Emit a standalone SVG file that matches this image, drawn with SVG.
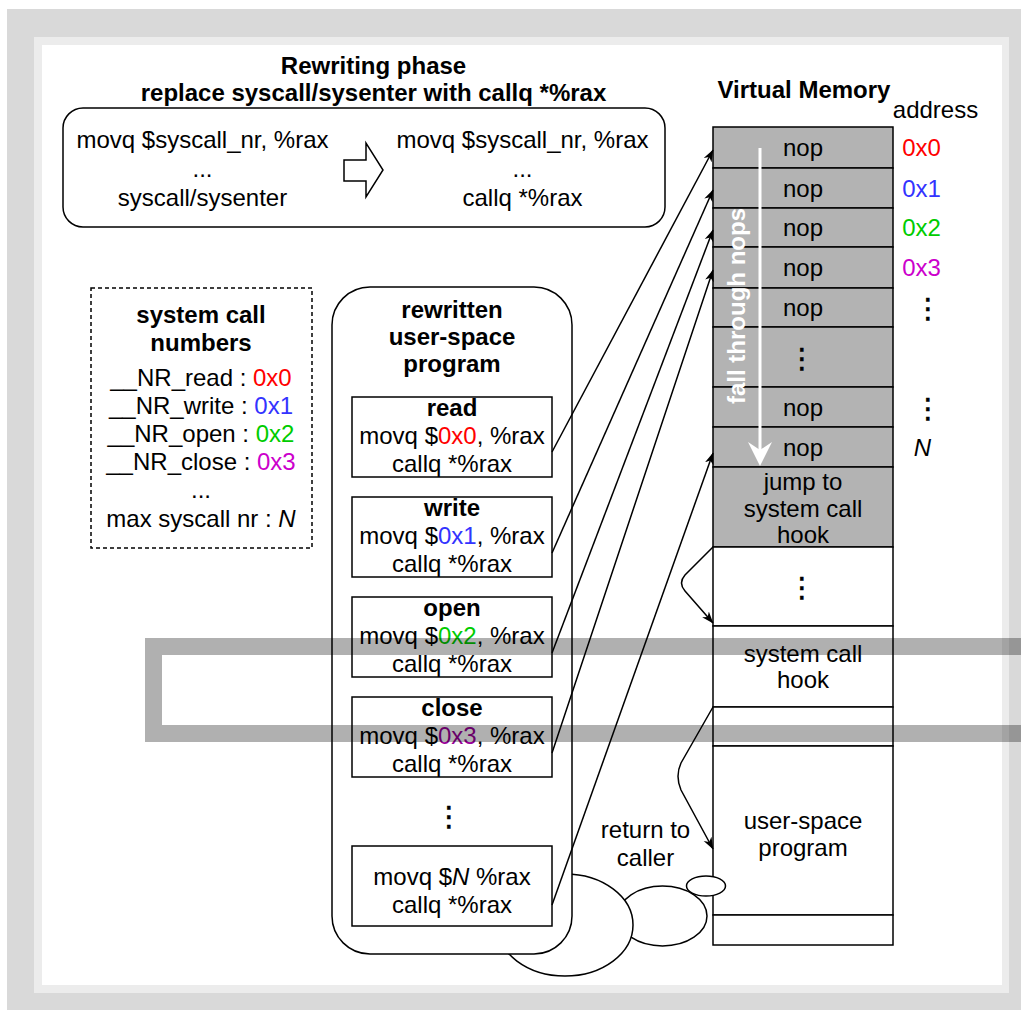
<svg xmlns="http://www.w3.org/2000/svg" width="1021" height="1010" viewBox="0 0 1021 1010">
<defs>
<style>
text{font-family:"Liberation Sans",Arial,Helvetica,sans-serif;font-size:24px;fill:#000;text-anchor:middle}
.b{font-weight:bold}
.i{font-style:italic}
.box{fill:#fff;stroke:#000;stroke-width:1.5}
.dash{fill:#fff;stroke:#000;stroke-width:1.5;stroke-dasharray:4 3}
.mg{fill:#b3b3b3;stroke:#000;stroke-width:1.5}
.mw{fill:#fff;stroke:#000;stroke-width:1.5}
.con{fill:none;stroke:#000;stroke-width:1.5}
.ell{fill:#fff;stroke:#000;stroke-width:1.5}
.dots{font-family:"DejaVu Sans",sans-serif;font-size:28px;stroke:#000;stroke-width:0.6}
.r{fill:#ff0000}.bl{fill:#3333ff}.g{fill:#00cc00}.m{fill:#cc00cc}.p{fill:#990099}
.wt{fill:#fff;font-weight:bold}
</style>
<marker id="ah" viewBox="0 0 10 10" refX="9.5" refY="5" markerWidth="12" markerHeight="12" markerUnits="userSpaceOnUse" orient="auto">
<path d="M0,1.3 L10,5 L0,8.7 L2.8,5 Z" fill="#000"/>
</marker>
</defs>

<g id="frame">
<rect x="7" y="9" width="1014" height="1001" fill="#d9d9d9"/>
<rect x="34" y="37" width="975" height="956" fill="#ececec"/>
<rect x="42" y="45" width="960" height="940" fill="#fff"/>
</g>

<g id="title">
<text class="b" x="373.5" y="74">Rewriting phase</text>
<text class="b" x="373.5" y="101">replace syscall/sysenter with callq *%rax</text>
</g>

<g id="rewrite-box">
<rect class="box" x="63" y="108" width="602" height="119" rx="20"/>
<text x="202.5" y="148">movq $syscall_nr, %rax</text>
<text x="202.5" y="177">...</text>
<text x="202.5" y="206">syscall/sysenter</text>
<path class="box" d="M344,160 H366 V143 L383,170 L366,197 V181 H344 Z"/>
<text x="522.5" y="148">movq $syscall_nr, %rax</text>
<text x="522.5" y="177">...</text>
<text x="522.5" y="206">callq *%rax</text>
</g>

<g id="syscall-numbers">
<rect class="dash" x="91" y="288" width="221" height="260"/>
<text class="b" x="201" y="323">system call</text>
<text class="b" x="201" y="351">numbers</text>
<text x="201" y="386">__NR_read : <tspan class="r">0x0</tspan></text>
<text x="201" y="414">__NR_write : <tspan class="bl">0x1</tspan></text>
<text x="201" y="442">__NR_open : <tspan class="g">0x2</tspan></text>
<text x="201" y="470">__NR_close : <tspan class="m">0x3</tspan></text>
<text x="201" y="498">...</text>
<text x="201" y="527">max syscall nr : <tspan class="i">N</tspan></text>
</g>

<g id="bubbles-back">
<ellipse class="ell" cx="662.5" cy="916" rx="44.5" ry="30"/>
<ellipse class="ell" cx="565" cy="925" rx="68" ry="51"/>
</g>

<g id="program">
<rect class="box" x="332" y="287" width="240" height="667" rx="38"/>
<text class="b" x="452" y="318">rewritten</text>
<text class="b" x="452" y="345">user-space</text>
<text class="b" x="452" y="372">program</text>
</g>
<g id="read">
<rect class="box" x="352" y="397" width="200" height="80"/>
<text class="b" x="452" y="416">read</text>
<text x="452" y="444">movq $<tspan class="r">0x0</tspan>, %rax</text>
<text x="452" y="472">callq *%rax</text>
</g>
<g id="write">
<rect class="box" x="352" y="497" width="200" height="80"/>
<text class="b" x="452" y="516">write</text>
<text x="452" y="544">movq $<tspan class="bl">0x1</tspan>, %rax</text>
<text x="452" y="572">callq *%rax</text>
</g>
<g id="open">
<rect class="box" x="352" y="597" width="200" height="80"/>
<text class="b" x="452" y="616">open</text>
<text x="452" y="644">movq $<tspan class="g">0x2</tspan>, %rax</text>
<text x="452" y="672">callq *%rax</text>
</g>
<g id="close">
<rect class="box" x="352" y="697" width="200" height="80"/>
<text class="b" x="452" y="716">close</text>
<text x="452" y="744">movq $<tspan class="p">0x3</tspan>, %rax</text>
<text x="452" y="772">callq *%rax</text>
</g>
<text class="dots" x="449" y="826">⋮</text>
<g id="max">
<rect class="box" x="352" y="846" width="200" height="80"/>
<text x="452" y="885">movq $<tspan class="i">N</tspan> %rax</text>
<text x="452" y="913">callq *%rax</text>
</g>

<g id="memory">
<text class="b" x="804" y="98">Virtual Memory</text>
<text x="935.5" y="118">address</text>
<rect class="mg" x="713" y="127" width="180" height="41"/>
<rect class="mg" x="713" y="168" width="180" height="40"/>
<rect class="mg" x="713" y="208" width="180" height="39"/>
<rect class="mg" x="713" y="247" width="180" height="41"/>
<rect class="mg" x="713" y="288" width="180" height="39"/>
<rect class="mg" x="713" y="327" width="180" height="60"/>
<rect class="mg" x="713" y="387" width="180" height="40"/>
<rect class="mg" x="713" y="427" width="180" height="40"/>
<rect class="mg" x="713" y="467" width="180" height="80"/>
<rect class="mw" x="713" y="547" width="180" height="79"/>
<rect class="mw" x="713" y="626" width="180" height="81"/>
<rect class="mw" x="713" y="707" width="180" height="39"/>
<rect class="mw" x="713" y="746" width="180" height="169"/>
<rect class="mw" x="713" y="915" width="180" height="30"/>
<text x="803" y="156">nop</text>
<text x="803" y="196.5">nop</text>
<text x="803" y="236">nop</text>
<text x="803" y="276">nop</text>
<text x="803" y="316">nop</text>
<text class="dots" x="802" y="368">⋮</text>
<text x="803" y="416">nop</text>
<text x="803" y="456">nop</text>
<text x="803" y="490">jump to</text>
<text x="803" y="517">system call</text>
<text x="803" y="543">hook</text>
<text class="dots" x="802" y="597">⋮</text>
<text x="803" y="662">system call</text>
<text x="803" y="688">hook</text>
<text x="803" y="829">user-space</text>
<text x="803" y="856">program</text>
<text class="r" x="921.5" y="156">0x0</text>
<text class="bl" x="921.5" y="196.5">0x1</text>
<text class="g" x="921.5" y="236">0x2</text>
<text class="m" x="921.5" y="276">0x3</text>
<text class="dots" x="928" y="318">⋮</text>
<text class="dots" x="928" y="418">⋮</text>
<text class="i" x="922.5" y="455.5">N</text>
</g>

<g id="fall-through">
<line x1="760" y1="148" x2="760" y2="452" stroke="#fff" stroke-width="3"/>
<path d="M748,442 L760,466 L772,442 L760,450 Z" fill="#fff"/>
<text class="wt" transform="translate(745,306) rotate(-90)" x="0" y="0">fall through nops</text>
</g>

<g id="connectors">
<path class="con" marker-end="url(#ah)" d="M552,452 L713,150"/>
<path class="con" marker-end="url(#ah)" d="M552,553 L713,190"/>
<path class="con" marker-end="url(#ah)" d="M552,653 L713,230"/>
<path class="con" marker-end="url(#ah)" d="M552,753 L713,270"/>
<path class="con" marker-end="url(#ah)" d="M552,905 L713,453"/>
<path class="con" marker-end="url(#ah)" d="M713,547 L685,575 Q678,583 685,591 L713,623"/>
<path class="con" marker-end="url(#ah)" d="M713,707 L681,763 Q675,776 681,790 L713,849"/>
</g>

<g id="return-label">
<text x="645.5" y="838">return to</text>
<text x="645.5" y="866">caller</text>
</g>

<g id="bubble-front">
<ellipse class="ell" cx="706" cy="886" rx="19.5" ry="10"/>
</g>

<g id="overlay">
<rect x="153.5" y="646.5" width="900" height="87" fill="none" stroke="#000" stroke-opacity="0.31" stroke-width="17"/>
</g>
</svg>
